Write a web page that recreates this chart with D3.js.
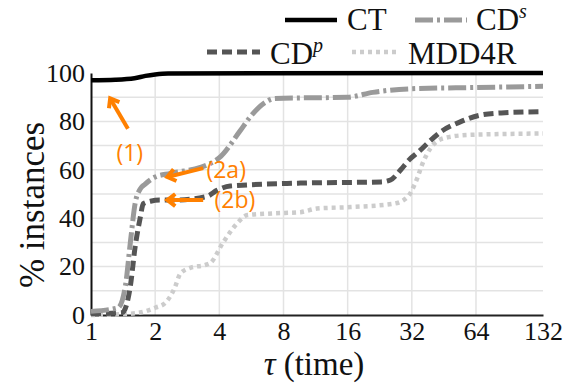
<!DOCTYPE html>
<html>
<head>
<meta charset="utf-8">
<script src="https://cdn.jsdelivr.net/npm/d3@7"></script>
<style>
body { margin: 0; background: #fff; }
</style>
</head>
<body>
<div id="chart"></div>
<script>
// data (x = time, y = % instances)
const xTicks = [1, 2, 4, 8, 16, 32, 64, 132]
const yTicks = [0, 20, 40, 60, 80, 100]

const ct = [[1, 97], [1.3, 97.2], [1.6, 97.8], [1.8, 98.8], [2.0, 99.4], [2.3, 99.8], [132, 100]]
const cds = [[1, 1.5], [1.34, 3], [1.45, 12], [1.53, 30], [1.61, 46], [1.7, 52], [1.79, 54], [2.0, 57],
             [2.35, 58.5], [3.26, 61], [3.5, 62], [4.0, 65], [5.0, 76], [5.6, 82], [6.6, 88], [7.3, 89.5],
             [16, 90], [21, 92], [32, 93.5], [64, 94], [132, 94.5]]
const cdp = [[1, 0.5], [1.4, 1], [1.53, 12], [1.61, 28], [1.7, 40], [1.76, 46], [1.9, 47], [2.1, 47.5],
             [2.5, 47.5], [3.5, 49], [3.9, 51.5], [4.5, 53.3], [9.6, 54.5], [23, 55], [25.4, 55.8],
             [28.4, 60], [31, 64], [35, 68], [39, 72], [43.6, 75.6], [54, 79.8], [67, 82.6], [84, 83.5], [132, 84]]
const mdd = [[1, 0], [1.5, 0.5], [1.7, 1], [2.0, 3], [2.23, 5], [2.48, 11.6], [2.62, 17], [2.92, 19.5],
             [3.44, 20.7], [3.63, 21.5], [4.17, 30], [4.86, 38], [5.42, 41.3], [7.2, 42], [9.6, 42.5],
             [11.5, 44], [16.5, 44.6], [26.3, 46], [30.6, 48.8], [33.2, 54.5], [36.5, 64], [39.2, 69],
             [45, 73], [59, 74.4], [132, 75]]

const seriesNames = ['CT', 'CDs', 'CDp', 'MDD4R']

// annotations: arrow tail, arrow head, label anchor (data units)
const notes = [
    {label: '(1)', from: [1.49, 77], to: [1.23, 89.5], at: [1.52, 67], anchor: 'middle'},
    {label: '(2a)', from: [3.36, 60.7], to: [2.28, 57], at: [3.48, 60], anchor: 'start'},
    {label: '(2b)', from: [3.36, 47.5], to: [2.28, 47.5], at: [3.8, 47.5], anchor: 'start'}
]

const W = 566, H = 385
const plotL = 91, plotR = 543, plotT = 73, plotB = 315
const orange = '#ff8000'
const serif = '"Liberation Serif", serif'

const svg = d3.select('#chart').append('svg')
    .attr('width', W).attr('height', H)

const x = d3.scaleLog().base(2).domain([1, 132]).range([plotL, plotR])
const y = d3.scaleLinear().domain([0, 100]).range([plotB, plotT])

// grid
svg.append('g')
    .selectAll('line')
    .data(d3.range(10, 100, 10))
    .join('line')
        .attr('x1', plotL).attr('x2', plotR)
        .attr('y1', d => y(d)).attr('y2', d => y(d))
        .attr('stroke', '#e3e3e3').attr('stroke-width', 1.5)
svg.append('g')
    .selectAll('line')
    .data(xTicks.slice(1, -1))
    .join('line')
        .attr('x1', d => x(d)).attr('x2', d => x(d))
        .attr('y1', plotT).attr('y2', plotB)
        .attr('stroke', '#e3e3e3').attr('stroke-width', 1.5)

// axes
const xAxis = svg.append('g')
    .attr('transform', `translate(0, ${plotB})`)
    .call(d3.axisBottom(x).tickValues(xTicks).tickFormat(d3.format('d')).tickSize(0).tickPadding(7))
xAxis.attr('font-family', serif).attr('font-size', 26)
xAxis.select('.domain').attr('stroke', '#222').attr('stroke-width', 2)
xAxis.selectAll('text').attr('fill', '#111')

const yAxis = svg.append('g')
    .attr('transform', `translate(${plotL}, 0)`)
    .call(d3.axisLeft(y).tickValues(yTicks).tickSize(0).tickPadding(6))
yAxis.attr('font-family', serif).attr('font-size', 26)
yAxis.select('.domain').attr('stroke', '#111').attr('stroke-width', 2)
yAxis.selectAll('text').attr('fill', '#111')

// lines
const line = d3.line().x(d => x(d[0])).y(d => y(d[1])).curve(d3.curveMonotoneX)
const styles = {
    CT: {data: ct, color: '#000', width: 4.5, dash: null},
    CDs: {data: cds, color: '#9a9a9a', width: 5, dash: '18,4,3,4'},
    CDp: {data: cdp, color: '#555', width: 5, dash: '10,5'},
    MDD4R: {data: mdd, color: '#cccccc', width: 4.5, dash: '4,4'}
}
for (const name of ['MDD4R', 'CDp', 'CDs', 'CT']) {
    const s = styles[name]
    svg.append('path')
        .datum(s.data)
        .attr('d', line)
        .attr('fill', 'none')
        .attr('stroke', s.color)
        .attr('stroke-width', s.width)
        .attr('stroke-dasharray', s.dash)
}

// legend
const legend = [
    {name: 'CT', sup: null, x1: 285, x2: 337, y: 20, tx: 347},
    {name: 'CD', sup: 's', x1: 415, x2: 467, y: 20, tx: 476},
    {name: 'CD', sup: 'p', x1: 207, x2: 260, y: 52, tx: 270},
    {name: 'MDD4R', sup: null, x1: 352, x2: 397, y: 52, tx: 408}
]
legend.forEach((l, i) => {
    const s = styles[seriesNames[i]]
    svg.append('line')
        .attr('x1', l.x1).attr('x2', l.x2).attr('y1', l.y).attr('y2', l.y)
        .attr('stroke', s.color).attr('stroke-width', s.width)
        .attr('stroke-dasharray', s.dash)
    const t = svg.append('text')
        .attr('x', l.tx).attr('y', l.y + (l.y < 30 ? 10 : 12))
        .attr('font-family', serif).attr('font-size', 31)
        .attr('fill', '#111')
        .text(l.name)
    if (l.sup) {
        t.append('tspan')
            .attr('dy', -12).attr('font-size', 20).attr('font-style', 'italic')
            .text(l.sup)
    }
})

// axis titles
const xt = svg.append('text')
    .attr('x', 314).attr('y', 375)
    .attr('text-anchor', 'middle')
    .attr('font-family', serif).attr('font-size', 33)
    .attr('fill', '#111')
xt.append('tspan').attr('font-style', 'italic').text('τ')
xt.append('tspan').text(' (time)')

svg.append('text')
    .attr('transform', `translate(44, 205) rotate(-90)`)
    .attr('text-anchor', 'middle')
    .attr('font-family', serif).attr('font-size', 35)
    .attr('fill', '#111')
    .text('% instances')

// annotations
function arrow(g, x1, y1, x2, y2) {
    const a = Math.atan2(y2 - y1, x2 - x1)
    const L = 10, s = 0.65
    g.append('line')
        .attr('x1', x1).attr('y1', y1).attr('x2', x2).attr('y2', y2)
        .attr('stroke', orange).attr('stroke-width', 4)
    g.append('path')
        .attr('d', `M${x2 - L * Math.cos(a - s)},${y2 - L * Math.sin(a - s)} L${x2},${y2} L${x2 - L * Math.cos(a + s)},${y2 - L * Math.sin(a + s)}`)
        .attr('fill', 'none').attr('stroke', orange).attr('stroke-width', 4)
        .attr('stroke-linejoin', 'miter')
}
const ann = svg.append('g')
for (const n of notes) {
    arrow(ann, x(n.from[0]), y(n.from[1]), x(n.to[0]), y(n.to[1]))
    ann.append('text')
        .attr('x', x(n.at[0])).attr('y', y(n.at[1]))
        .attr('dy', '0.35em')
        .attr('text-anchor', n.anchor)
        .attr('font-family', 'Open Sans').attr('font-size', 23)
        .attr('fill', orange)
        .text(n.label)
}
</script>
</body>
</html>
